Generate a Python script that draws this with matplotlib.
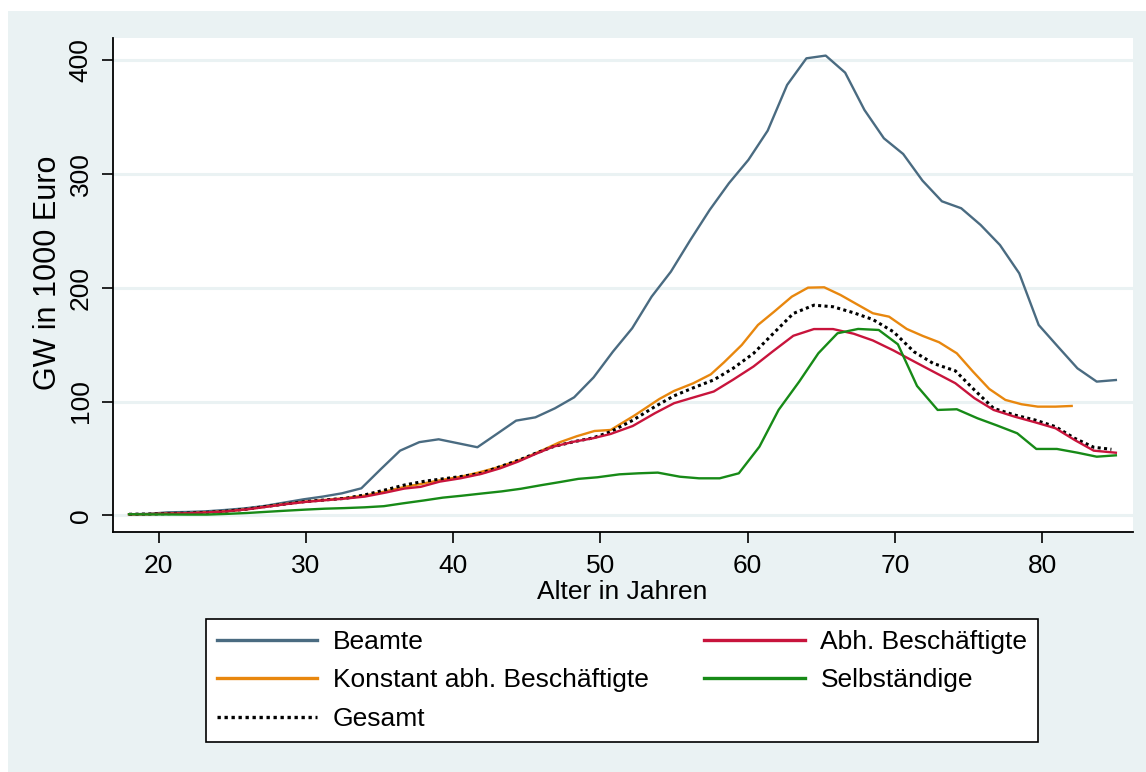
import matplotlib
matplotlib.use("Agg")
import matplotlib.pyplot as plt
from matplotlib.patches import Rectangle

plt.rcParams['font.family'] = ['Liberation Sans', 'DejaVu Sans']
plt.rcParams['font.size'] = 19

# Beamte
age_beamte = [18.0, 19.31, 20.63, 21.94, 23.26, 24.57, 25.88, 27.2, 28.51, 29.83,
              31.14, 32.45, 33.77, 35.08, 36.4, 37.71, 39.02, 40.34, 41.65, 42.97,
              44.28, 45.59, 46.91, 48.22, 49.54, 50.85, 52.16, 53.48, 54.79, 56.11,
              57.42, 58.73, 60.05, 61.36, 62.68, 63.99, 65.3, 66.62, 67.93, 69.25,
              70.56, 71.87, 73.19, 74.5, 75.82, 77.13, 78.44, 79.76, 81.07, 82.39,
              83.7, 85.0]
gw_beamte = [0.9, 1.2, 2.6, 2.9, 3.5, 4.7, 6.1, 8.2, 11.1, 14.0,
             16.4, 19.3, 23.7, 40.4, 56.8, 64.3, 66.8, 63.3, 59.8, 71.5,
             83.2, 86.1, 94.0, 103.7, 121.2, 143.8, 164.4, 192.2, 214.2, 242.0,
             268.4, 291.9, 312.4, 338.1, 378.3, 401.7, 404.1, 389.1, 356.3, 331.4,
             317.6, 294.2, 276.0, 269.9, 255.2, 237.6, 212.7, 167.3, 148.2, 129.2,
             117.5, 118.9]

# Abh. Beschäftigte
age_abh = [18.0, 19.3, 20.6, 22.0, 23.3, 24.6, 26.0, 27.3, 28.6, 30.0,
           31.3, 32.6, 34.0, 35.4, 36.7, 37.8, 39.1, 40.5, 41.9, 43.2,
           44.4, 45.6, 46.8, 48.2, 49.5, 50.7, 52.2, 53.7, 55.0, 56.3,
           57.7, 59.0, 60.4, 61.7, 63.1, 64.5, 65.8, 67.2, 68.5, 69.9,
           71.3, 72.6, 74.1, 75.4, 76.7, 78.1, 79.5, 80.9, 82.2, 83.5, 85.0]
gw_abh = [0.9, 1.0, 1.4, 1.8, 2.5, 3.4, 5.2, 7.4, 9.7, 11.8,
          13.2, 14.6, 16.4, 19.9, 23.5, 25.0, 29.6, 32.5, 36.3, 41.3,
          47.1, 53.9, 60.3, 64.7, 67.7, 71.5, 78.5, 89.7, 98.5, 103.5,
          108.8, 119.1, 130.8, 144.0, 157.8, 163.7, 163.7, 159.6, 153.7, 144.9,
          135.2, 126.3, 116.1, 102.9, 92.6, 86.8, 81.8, 76.5, 66.2, 56.8, 55.0]

# Konstant abh. Beschäftigte
age_konst = [18.0, 19.3, 20.6, 22.0, 23.3, 24.6, 26.0, 27.3, 28.6, 30.0,
             31.3, 32.6, 34.0, 35.4, 36.7, 37.8, 39.1, 40.5, 41.7, 43.0,
             44.0, 45.0, 46.1, 47.2, 48.4, 49.6, 50.7, 52.3, 54.0, 55.0,
             56.3, 57.5, 58.4, 59.6, 60.7, 61.8, 63.0, 64.1, 65.2, 66.3,
             67.5, 68.5, 69.6, 70.8, 71.9, 73.0, 74.2, 75.3, 76.4, 77.5,
             78.6, 79.7, 80.9, 82.0]
gw_konst = [0.9, 1.0, 1.4, 1.8, 2.6, 3.5, 5.3, 7.6, 9.9, 12.0,
            13.5, 15.0, 17.3, 21.0, 24.9, 27.5, 30.8, 33.8, 37.5, 42.0,
            46.3, 51.0, 57.4, 64.0, 69.5, 74.1, 75.0, 87.6, 102.2, 109.3,
            116.0, 123.9, 134.5, 149.7, 167.3, 179.0, 192.2, 200.1, 200.4, 193.7,
            184.9, 177.6, 174.6, 163.8, 157.6, 152.1, 142.4, 126.3, 111.1, 101.4,
            97.6, 95.5, 95.5, 96.1]

# Selbständige
age_selb = [18.0, 19.3, 20.6, 22.0, 23.3, 24.6, 26.0, 27.3, 28.6, 30.0,
            31.3, 32.6, 34.0, 35.3, 36.6, 38.0, 39.3, 40.6, 42.0, 43.3,
            44.6, 46.0, 47.3, 48.5, 49.8, 51.3, 52.6, 53.9, 55.4, 56.7,
            58.1, 59.4, 60.8, 62.1, 63.5, 64.8, 66.1, 67.5, 68.9, 70.2,
            71.5, 72.9, 74.2, 75.6, 76.9, 78.3, 79.6, 81.0, 82.4, 83.7, 85.0]
gw_selb = [0.9, 0.8, 0.7, 0.6, 0.6, 1.2, 2.0, 3.0, 4.0, 5.0,
           5.8, 6.3, 7.0, 8.0, 10.5, 13.0, 15.5, 17.2, 19.2, 21.0,
           23.3, 26.5, 29.3, 32.0, 33.4, 36.0, 36.9, 37.5, 33.9, 32.5,
           32.5, 36.9, 60.3, 92.6, 117.5, 142.4, 160.0, 163.8, 162.9, 150.3,
           113.7, 92.6, 93.2, 85.3, 79.1, 72.1, 58.3, 58.3, 55.0, 51.5, 52.7]

# Gesamt
age_ges = [18.0, 19.3, 20.6, 22.0, 23.3, 24.5, 25.9, 27.2, 28.6, 29.9,
           31.3, 32.7, 34.0, 35.4, 36.7, 38.1, 39.1, 40.5, 41.9, 43.2,
           44.5, 45.6, 46.8, 48.2, 49.5, 50.7, 52.2, 53.7, 55.0, 56.3,
           57.7, 59.0, 60.4, 61.7, 63.1, 64.5, 65.8, 67.2, 68.5, 69.9,
           71.3, 72.6, 74.1, 75.4, 76.7, 78.1, 79.5, 80.9, 82.2, 83.5, 84.7]
gw_ges = [0.9, 1.1, 1.4, 2.0, 2.6, 3.5, 5.3, 7.6, 9.9, 12.0,
          13.5, 14.9, 17.9, 22.3, 26.6, 30.0, 31.7, 34.0, 36.9, 42.8,
          48.6, 54.5, 60.3, 64.7, 68.0, 73.5, 83.5, 95.5, 105.0, 112.0,
          119.0, 129.1, 142.3, 159.3, 177.4, 184.7, 183.3, 178.0, 172.1, 161.3,
          143.7, 133.5, 127.0, 110.1, 94.0, 88.2, 83.8, 77.9, 67.7, 59.8, 58.0]

x_ticks = [20, 30, 40, 50, 60, 70, 80]
y_ticks = [0, 100, 200, 300, 400]

bg = "#eaf2f3"
W, H = 1146, 772
fig = plt.figure(figsize=(W / 100, H / 100), dpi=100)
fig.patch.set_facecolor("white")
# graph region (light blue), leaving a thin white strip top/left
fig.patches.append(Rectangle((8 / W, 0), 1 - 8 / W, 1 - 11 / H,
                             transform=fig.transFigure, facecolor=bg,
                             edgecolor="none", zorder=-10))

ax = fig.add_axes([113 / W, 1 - 532 / H, (1132.5 - 113) / W, (532 - 38.3) / H])
ax.set_facecolor("white")

ax.plot(age_beamte, gw_beamte, color="#4a6b81", lw=1.7, label="Beamte")
ax.plot(age_konst, gw_konst, color="#e8870e", lw=1.7, label="Konstant abh. Beschäftigte")
ax.plot(age_ges, gw_ges, color="black", lw=2.2, linestyle=(0, (1, 1.1)), label="Gesamt")
ax.plot(age_abh, gw_abh, color="#c8143c", lw=1.7, label="Abh. Beschäftigte")
ax.plot(age_selb, gw_selb, color="#178a17", lw=1.7, label="Selbständige")

ax.set_xlim(16.91, 86.13)
ax.set_ylim(-14.7, 419.3)
ax.set_xticks(x_ticks)
ax.set_yticks(y_ticks)
ax.yaxis.grid(True, color=bg, lw=2.2)
ax.set_axisbelow(True)

for s in ["top", "right"]:
    ax.spines[s].set_visible(False)
for s in ["left", "bottom"]:
    ax.spines[s].set_linewidth(1.3)
    ax.spines[s].set_color("black")

ax.tick_params(axis="both", length=8, width=1.2, color="black")
ax.tick_params(axis="x", pad=7.5)
ax.tick_params(axis="y", pad=6.5)
for lab in ax.get_yticklabels():
    lab.set_rotation(90)
    lab.set_va("center")

ax.set_xlabel("Alter in Jahren")
ax.set_ylabel("GW in 1000 Euro", fontsize=22, va="center")
ax.xaxis.set_label_coords(0.4995, -0.097)
ax.yaxis.set_label_coords(-0.0638, 0.526)

h, l = ax.get_legend_handles_labels()
leg = fig.legend(h, l, ncol=2, loc="center",
                 bbox_to_anchor=(206 / W, 1 - 743 / H, 832 / W, 125 / H),
                 mode="expand", frameon=True, fancybox=False,
                 edgecolor="black", facecolor="white", framealpha=1,
                 handlelength=3.8, handletextpad=0.6, labelspacing=0.55,
                 borderpad=0.4, borderaxespad=0)
leg.get_frame().set_linewidth(1.2)
for line in leg.get_lines():
    line.set_linewidth(2.4)

fig.savefig("out.png", dpi=100)
